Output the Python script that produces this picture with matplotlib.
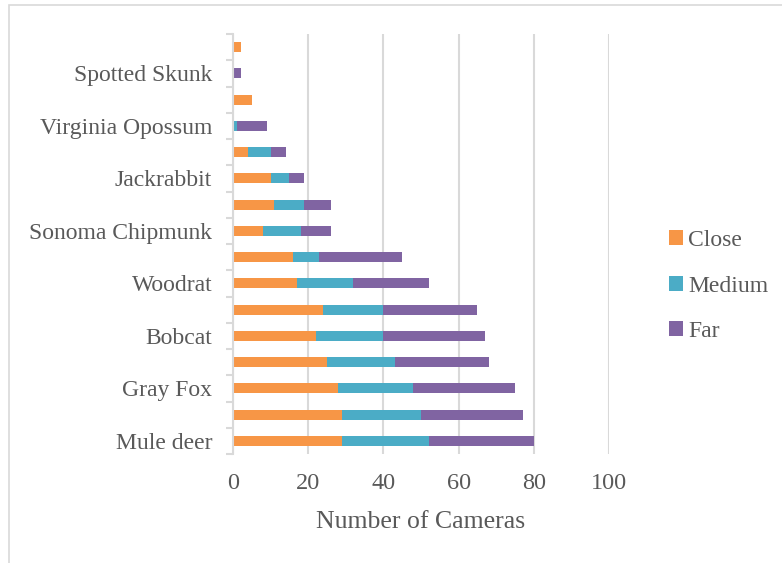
import matplotlib
matplotlib.use("Agg")
import matplotlib.pyplot as plt
import numpy as np
from matplotlib.patches import Rectangle

# Categories from bottom to top (hidden labels are shown blank as in the reference)
categories = ["Mule deer", "", "Gray Fox", "", "Bobcat", "", "Woodrat", "",
              "Sonoma Chipmunk", "", "Jackrabbit", "", "Virginia Opossum", "",
              "Spotted Skunk", ""]
close = [29, 29, 28, 25, 22, 24, 17, 16, 8, 11, 10, 4, 0, 5, 0, 2]
medium = [23, 21, 20, 18, 18, 16, 15, 7, 10, 8, 5, 6, 1, 0, 0, 0]
far = [28, 27, 27, 25, 27, 25, 20, 22, 8, 7, 4, 4, 8, 0, 2, 0]
series_names = ["Close", "Medium", "Far"]
colors = ["#F79646", "#4BACC6", "#8064A2"]
xticks = [0, 20, 40, 60, 80, 100]

plt.rcParams["font.family"] = ["Liberation Serif", "DejaVu Serif"]
text_color = "#595959"
grid_color = "#D9D9D9"

fig = plt.figure(figsize=(7.82, 5.63), dpi=100)
W, H = 782, 563
ax = fig.add_axes([233 / W, 1 - 454 / H, (609 - 233) / W, (454 - 34) / H])

y = np.arange(len(categories))
left = np.zeros(len(categories))
for vals, name, c in zip([close, medium, far], series_names, colors):
    ax.barh(y, vals, left=left, height=0.38, color=c, label=name, zorder=3)
    left = left + np.array(vals)

ax.set_xlim(0, 100)
ax.set_ylim(-0.5, len(categories) - 0.5)
ax.set_xticks(xticks)
ax.set_xticklabels([str(v) for v in xticks])
ax.set_yticks(y)
ax.set_yticklabels(categories)
ax.set_yticks(np.arange(-0.5, len(categories), 1.0), minor=True)

for s in ["top", "right", "bottom"]:
    ax.spines[s].set_visible(False)
ax.spines["left"].set_color(grid_color)
ax.spines["left"].set_linewidth(1.5)
ax.spines["left"].set_zorder(4)

ax.grid(axis="x", color=grid_color, linewidth=1.5, zorder=0)
ax.tick_params(axis="x", length=0, pad=14, labelsize=17.5, labelcolor=text_color)
ax.tick_params(axis="y", which="major", length=0, pad=15, labelsize=17, labelcolor=text_color)
ax.tick_params(axis="y", which="minor", length=5, width=1.5, color=grid_color)

ax.set_xlabel("Number of Cameras", fontsize=18.5, color=text_color, labelpad=12)

handles, labels = ax.get_legend_handles_labels()
leg = fig.legend(handles, labels, loc="center left", bbox_to_anchor=(669 / W, 1 - 286 / H),
                 frameon=False, fontsize=17, labelcolor=text_color, handlelength=0.6,
                 handleheight=0.6, handletextpad=0.2, labelspacing=1.05, borderpad=0,
                 borderaxespad=0)

fig.patches.append(Rectangle((8.5 / W, -0.1), 1.2, 1 - 5.5 / H + 0.1, transform=fig.transFigure,
                             fill=False, edgecolor=grid_color, linewidth=1.2))

fig.savefig("out.png", dpi=100)
